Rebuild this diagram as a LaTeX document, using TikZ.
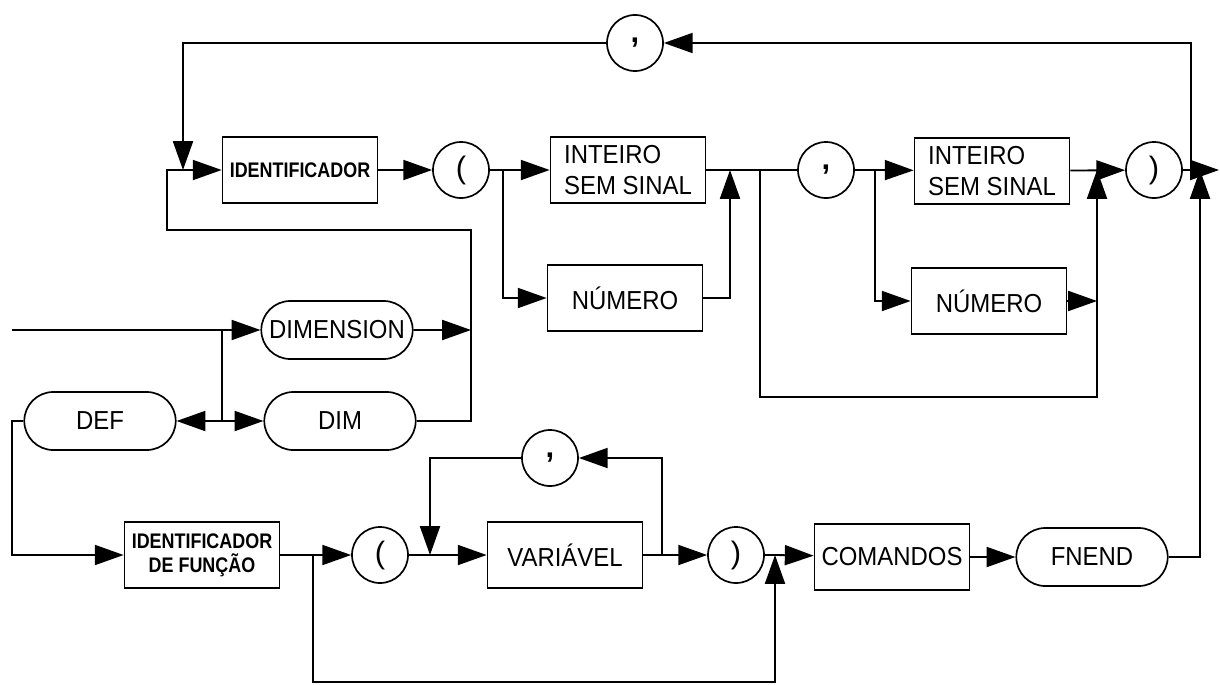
\documentclass[tikz,border=0pt]{standalone}
\usepackage{fontspec}
\setmainfont{Liberation Sans}
\newfontfamily\condfont[FakeStretch=0.92]{Liberation Sans}
\newfontfamily\narrowfont[FakeStretch=0.85]{Liberation Sans}
\usetikzlibrary{arrows.meta,shapes.misc}
\tikzset{
  box/.style={draw, rectangle, line width=1.2pt, minimum width=3.875cm, minimum height=1.65cm, align=left, font=\condfont\fontsize{18.5}{22}\selectfont},
  smallbox/.style={box, align=center, font=\narrowfont\bfseries\fontsize{15}{17}\selectfont},
  term/.style={draw, rounded rectangle, line width=1.2pt, minimum width=3.925cm, minimum height=1.45cm, inner xsep=2pt, font=\condfont\fontsize{18.5}{22}\selectfont},
  sym/.style={draw, circle, line width=1.2pt, minimum size=1.4cm, inner sep=0pt, font=\fontsize{22}{22}\selectfont},
  flow/.style={line width=1.3pt, -{Triangle[length=0.72cm,width=0.5cm]}}
}
\begin{document}
\begin{tikzpicture}[x=0.025cm,y=-0.025cm,line width=1.3pt]
\useasboundingbox (0,0) rectangle (1220,684);
% nodes
\node[smallbox] (idf) at (300,170) {IDENTIFICADOR};
\node[sym] (lpa) at (461,170) {(};
\node[box] (inta) at (628,170) {INTEIRO\\SEM SINAL};
\node[box] (numa) at (625,298) {NÚMERO};
\node[sym] (vga) at (826,170) {\textbf{,}};
\node[box] (intb) at (992,171) {INTEIRO\\SEM SINAL};
\node[box] (numb) at (989,301) {NÚMERO};
\node[sym] (rpa) at (1154,170) {)};
\node[sym] (vgt) at (635,43) {\textbf{,}};
\node[term] (dimension) at (337,330) {DIMENSION};
\node[term] (def) at (100,421) {DEF};
\node[term] (dim) at (340,421) {DIM};
\node[smallbox] (idfn) at (202,555) {IDENTIFICADOR\\DE FUNÇÃO};
\node[sym] (lpb) at (380,555) {(};
\node[sym] (vgb) at (550,458) {\textbf{,}};
\node[box] (var) at (565,555) {VARIÁVEL};
\node[sym] (rpb) at (736,555) {)};
\node[box] (cmd) at (892,557) {COMANDOS};
\node[term] (fnend) at (1092,557) {FNEND};
% junctions
\coordinate (ja) at (503,170);
\coordinate (jb) at (760,170);
\coordinate (jc) at (875,170);
\coordinate (jd) at (1097,301);
\coordinate (je) at (1191,170);
\coordinate (out) at (1219,170);
\coordinate (in) at (12,330);
\coordinate (jf) at (222,330);
\coordinate (jg) at (222,421);
\coordinate (jh) at (313,555);
\coordinate (ji) at (430,555);
\coordinate (jj) at (662,555);
\coordinate (jk) at (775,555);
% upper line
\draw[flow] (idf) -- (lpa);
\draw[flow] (lpa) -- (ja) -- (inta);
\draw[flow] (ja) |- (numa);
\draw[flow] (numa) -| (730,170);
\draw (inta) -- (vga);
\draw[flow] (jb) -- (760,397) -| (1097,170);
\draw[flow] (vga) -- (jc) -- (intb);
\draw[flow] (jc) |- (numb);
\draw[flow] (numb) -- (jd);
\draw[flow] (intb) -- (rpa);
\draw (rpa) -- (je);
\draw[flow] (je) -- (out);
\draw[flow] (je) |- (vgt);
\draw[flow] (vgt) -| (183,170);
% DIMENSION / DIM / DEF
\draw[flow] (in) -- (dimension);
\draw (jf) -- (jg);
\draw[flow] (jg) -- (def);
\draw[flow] (jg) -- (dim);
\draw[flow] (dimension) -- (471,330);
\draw[flow] (dim) -| (471,230) -| (167,170) -- (idf);
\draw[flow] (def) -- (12,421) |- (idfn);
% lower line
\draw[flow] (idfn) -- (jh) -- (lpb);
\draw[flow] (jh) -- (313,682) -| (jk);
\draw[flow] (lpb) -- (ji) -- (var);
\draw[flow] (var) -- (jj) -- (rpb);
\draw[flow] (jj) |- (vgb);
\draw[flow] (vgb) -| (ji);
\draw[flow] (rpb) -- (jk) -- (cmd);
\draw[flow] (cmd) -- (fnend);
\draw[flow] (fnend) -| (1200,170);
\end{tikzpicture}
\end{document}
